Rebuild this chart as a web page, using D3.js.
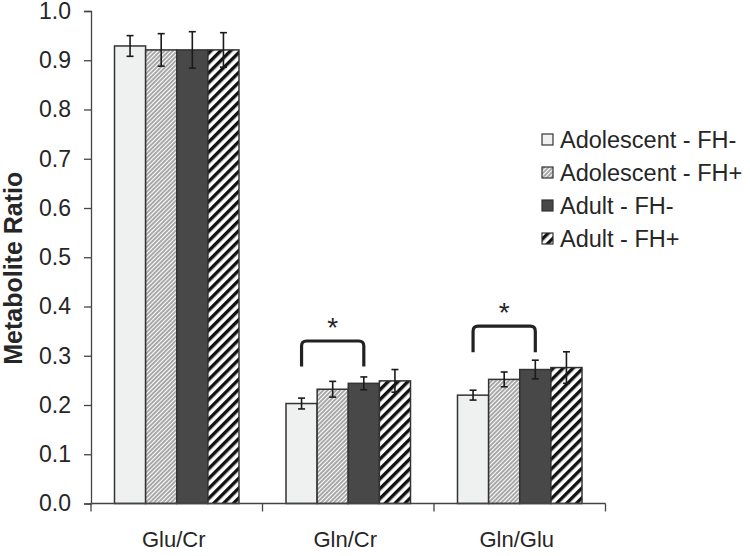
<!DOCTYPE html>
<html lang="en">
<head>
    <meta charset="utf-8">
    <title>Metabolite Ratio</title>
    <script src="https://d3js.org/d3.v7.min.js"></script>
    <style>
        body { margin: 0; background: #fff; }
        text { font-family: "Liberation Sans", Arial, sans-serif; fill: #262626; }
    </style>
</head>
<body>
    <div id="chart"></div>

    <script>
        // Data for the chart
        const categories = ["Glu/Cr", "Gln/Cr", "Gln/Glu"];
        const seriesNames = ["Adolescent - FH-", "Adolescent - FH+", "Adult - FH-", "Adult - FH+"];
        const adolescentMinus = [0.929, 0.203, 0.220];
        const adolescentPlus  = [0.921, 0.232, 0.252];
        const adultMinus      = [0.921, 0.244, 0.272];
        const adultPlus       = [0.921, 0.249, 0.276];
        const adolescentMinusErr = [0.021, 0.011, 0.010];
        const adolescentPlusErr  = [0.033, 0.016, 0.015];
        const adultMinusErr      = [0.037, 0.013, 0.019];
        const adultPlusErr       = [0.035, 0.023, 0.032];
        const yTicks = [0, 0.1, 0.2, 0.3, 0.4, 0.5, 0.6, 0.7, 0.8, 0.9, 1.0];
        // significance brackets: category, first and last series, bar level, leg end
        const brackets = [
            { category: "Gln/Cr",  from: 0, to: 2, level: 0.330, leg: 0.278 },
            { category: "Gln/Glu", from: 0, to: 2, level: 0.360, leg: 0.307 }
        ];

        const means = [adolescentMinus, adolescentPlus, adultMinus, adultPlus];
        const errs = [adolescentMinusErr, adolescentPlusErr, adultMinusErr, adultPlusErr];
        const fills = ["#eff0f0", "url(#fineHatch)", "#484848", "url(#wideStripe)"];

        const width = 750;
        const height = 556;
        const plotLeft = 91, plotRight = 605.5, plotTop = 11, plotBottom = 503.5;

        const svg = d3.select("#chart")
            .append("svg")
            .attr("width", width)
            .attr("height", height);

        // hatch patterns
        const defs = svg.append("defs");
        const fine = defs.append("pattern")
            .attr("id", "fineHatch")
            .attr("patternUnits", "userSpaceOnUse")
            .attr("width", 3).attr("height", 3)
            .attr("patternTransform", "rotate(45)");
        fine.append("rect").attr("width", 3).attr("height", 3).attr("fill", "#fff");
        fine.append("line")
            .attr("x1", 1).attr("y1", 0).attr("x2", 1).attr("y2", 3)
            .attr("stroke", "#6e6e6e").attr("stroke-width", 1.2);

        const wide = defs.append("pattern")
            .attr("id", "wideStripe")
            .attr("patternUnits", "userSpaceOnUse")
            .attr("width", 7).attr("height", 7)
            .attr("patternTransform", "rotate(45)");
        wide.append("rect").attr("width", 7).attr("height", 7).attr("fill", "#fff");
        wide.append("rect").attr("x", 0).attr("width", 3.4).attr("height", 7).attr("fill", "#111");

        // scales
        const x0 = d3.scaleBand()
            .domain(categories)
            .range([plotLeft, plotRight])
            .padding(0);

        const x1 = d3.scaleBand()
            .domain(d3.range(seriesNames.length))
            .range([23.5, x0.bandwidth() - 23.5])
            .padding(0);

        const y = d3.scaleLinear()
            .domain([0, 1])
            .range([plotBottom, plotTop]);

        // y axis
        const yAxis = svg.append("g")
            .attr("transform", `translate(${plotLeft},0)`)
            .call(d3.axisLeft(y).tickValues(yTicks).tickFormat(d3.format(".1f"))
                .tickSize(7).tickPadding(13));
        yAxis.select(".domain").attr("stroke", "#444").attr("stroke-width", 1.3);
        yAxis.selectAll(".tick line").attr("stroke", "#444").attr("stroke-width", 1.3);
        yAxis.selectAll(".tick text")
            .attr("font-size", 23)
            .attr("font-family", "Liberation Sans, Arial, sans-serif")
            .attr("fill", "#262626");

        // y title
        svg.append("text")
            .attr("transform", `translate(21.5, ${(plotTop + plotBottom) / 2 + 11}) rotate(-90)`)
            .attr("text-anchor", "middle")
            .attr("font-size", 25)
            .attr("font-weight", "bold")
            .text("Metabolite Ratio");

        // bars
        const groups = svg.append("g").selectAll("g")
            .data(categories)
            .join("g")
            .attr("transform", d => `translate(${x0(d)},0)`);

        groups.selectAll("rect")
            .data((c, ci) => seriesNames.map((s, si) => ({ si, v: means[si][ci], e: errs[si][ci] })))
            .join("rect")
            .attr("x", d => x1(d.si))
            .attr("y", d => y(d.v))
            .attr("width", x1.bandwidth())
            .attr("height", d => y(0) - y(d.v))
            .attr("fill", d => fills[d.si])
            .attr("stroke", "#333")
            .attr("stroke-width", 1.5);

        // error bars
        const eb = groups.selectAll("g.err")
            .data((c, ci) => seriesNames.map((s, si) => ({ si, v: means[si][ci], e: errs[si][ci] })))
            .join("g")
            .attr("class", "err")
            .attr("stroke", "#1a1a1a")
            .attr("stroke-width", 1.6);
        eb.append("line")
            .attr("x1", d => x1(d.si) + x1.bandwidth() / 2)
            .attr("x2", d => x1(d.si) + x1.bandwidth() / 2)
            .attr("y1", d => y(d.v + d.e))
            .attr("y2", d => y(d.v - d.e));
        eb.append("line")
            .attr("x1", d => x1(d.si) + x1.bandwidth() / 2 - 3.5)
            .attr("x2", d => x1(d.si) + x1.bandwidth() / 2 + 3.5)
            .attr("y1", d => y(d.v + d.e))
            .attr("y2", d => y(d.v + d.e));
        eb.append("line")
            .attr("x1", d => x1(d.si) + x1.bandwidth() / 2 - 3.5)
            .attr("x2", d => x1(d.si) + x1.bandwidth() / 2 + 3.5)
            .attr("y1", d => y(d.v - d.e))
            .attr("y2", d => y(d.v - d.e));

        // x axis
        const xAxis = svg.append("g")
            .attr("transform", `translate(0,${plotBottom})`);
        xAxis.append("line")
            .attr("x1", plotLeft).attr("x2", plotRight)
            .attr("stroke", "#444").attr("stroke-width", 1.3);
        xAxis.selectAll("line.tk")
            .data([...categories.map(c => x0(c)), plotRight])
            .join("line")
            .attr("class", "tk")
            .attr("x1", d => d).attr("x2", d => d)
            .attr("y1", 0).attr("y2", 8)
            .attr("stroke", "#444").attr("stroke-width", 1.3);
        xAxis.selectAll("text")
            .data(categories)
            .join("text")
            .attr("x", d => x0(d) + x0.bandwidth() / 2 - 3)
            .attr("y", 43)
            .attr("text-anchor", "middle")
            .attr("font-size", 22)
            .text(d => d);

        // significance brackets
        const br = svg.append("g").selectAll("g")
            .data(brackets)
            .join("g");
        br.append("path")
            .attr("d", d => {
                const xa = x0(d.category) + x1(d.from) + x1.bandwidth() / 2;
                const xb = x0(d.category) + x1(d.to) + x1.bandwidth() / 2;
                const yl = y(d.level), yg = y(d.leg), r = 5;
                return `M${xa},${yg} V${yl + r} Q${xa},${yl} ${xa + r},${yl} H${xb - r} Q${xb},${yl} ${xb},${yl + r} V${yg}`;
            })
            .attr("fill", "none")
            .attr("stroke", "#222")
            .attr("stroke-width", 3.2);
        br.append("text")
            .attr("x", d => x0(d.category) + (x1(d.from) + x1(d.to) + x1.bandwidth()) / 2)
            .attr("y", d => y(d.level) - 4)
            .attr("text-anchor", "middle")
            .attr("font-size", 28)
            .text("*");

        // legend
        const legend = svg.append("g")
            .attr("transform", "translate(542,0)")
            .selectAll("g")
            .data(seriesNames)
            .join("g")
            .attr("transform", (d, i) => `translate(0,${148 + i * 33})`);
        legend.append("rect")
            .attr("x", 0).attr("y", -14)
            .attr("width", 11).attr("height", 11)
            .attr("fill", (d, i) => fills[i])
            .attr("stroke", "#333")
            .attr("stroke-width", 1.2);
        legend.append("text")
            .attr("x", 18)
            .attr("y", 0)
            .attr("font-size", 23.5)
            .text(d => d);
    </script>
</body>
</html>
